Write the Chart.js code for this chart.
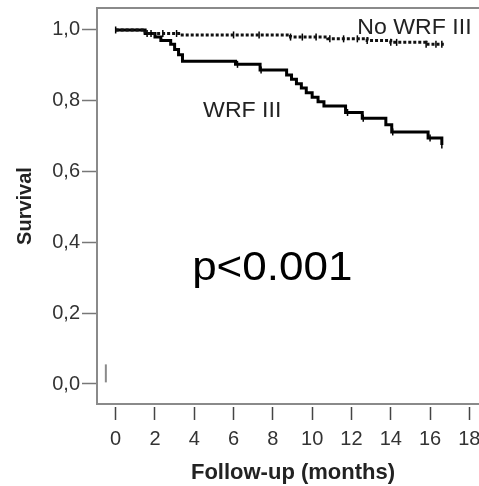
<!DOCTYPE html>
<html>
<head>
<meta charset="utf-8">
<script src="https://cdn.jsdelivr.net/npm/chart.js@4.4.1/dist/chart.umd.min.js"></script>
<style>
    html, body { margin: 0; padding: 0; background: #fff; overflow: hidden; }
    #wrap { width: 479px; height: 486px; overflow: hidden; }
</style>
</head>
<body>
<div id="wrap"><canvas id="km" width="500" height="486"></canvas></div>
<script>
// Kaplan-Meier steps (months, cumulative survival)
const wrfMonths = [0, 1.5, 2.0, 2.3, 2.8, 3.0, 3.2, 3.4, 6.1, 7.35, 8.7, 8.95, 9.2, 9.45, 9.7, 10.0, 10.3, 10.6, 11.7, 12.55, 13.75, 14.05, 15.9, 16.6];
const wrfSurv   = [1.0, 0.99, 0.98, 0.97, 0.96, 0.945, 0.93, 0.912, 0.903, 0.887, 0.873, 0.861, 0.848, 0.836, 0.823, 0.810, 0.797, 0.785, 0.767, 0.751, 0.732, 0.712, 0.695, 0.675];
const noWrfMonths = [0, 1.5, 3.3, 8.9, 10.8, 12.8, 14.0, 15.8, 16.7];
const noWrfSurv   = [1.0, 0.99, 0.986, 0.98, 0.975, 0.97, 0.965, 0.96, 0.96];

// censored observations (months)
const wrfCensored = [0, 6.2, 7.4, 11.8, 12.6, 14.1, 16.0, 16.6];
const noWrfCensored = [1.6, 1.8, 2.4, 3.1, 6.0, 7.3, 8.9, 9.5, 10.2, 10.9, 11.6, 12.3, 12.8, 14.0, 14.3, 15.8, 16.3, 16.6];

// small stray mark near the origin in the original
const strayMark = [{ x: -0.5, y: 0.03 }];

const xTicks = [0, 2, 4, 6, 8, 10, 12, 14, 16, 18];
const yTicks = [0, 0.2, 0.4, 0.6, 0.8, 1.0];

Chart.defaults.font.family = '"Liberation Sans", Arial, sans-serif';
Chart.defaults.color = '#333';

function toPoints(months, surv) {
    return months.map((m, i) => ({ x: m, y: surv[i] }));
}

function survAt(months, surv, t) {
    let i = 0;
    while (i + 1 < months.length && months[i + 1] <= t) i++;
    return surv[i];
}

function censorPoints(times, months, surv) {
    return times.map(t => ({ x: t, y: survAt(months, surv, t) }));
}

const framePlugin = {
    id: 'frame',
    beforeDatasetsDraw(chart) {
        const { ctx, chartArea: a } = chart;
        ctx.save();
        ctx.strokeStyle = '#8a8a8a';
        ctx.lineWidth = 2;
        ctx.strokeRect(a.left, a.top, a.right - a.left, a.bottom - a.top);
        ctx.restore();
    }
};

const notesPlugin = {
    id: 'notes',
    afterDatasetsDraw(chart, args, opts) {
        const { ctx } = chart;
        const xs = chart.scales.x, ys = chart.scales.y;
        opts.items.forEach(n => {
            ctx.save();
            ctx.translate(xs.getPixelForValue(n.x), ys.getPixelForValue(n.y));
            ctx.scale(n.stretch, 1);
            ctx.font = n.font;
            ctx.fillStyle = n.color;
            ctx.textAlign = n.align;
            ctx.textBaseline = 'alphabetic';
            ctx.fillText(n.text, 0, 0);
            ctx.restore();
        });
    }
};

const censorStyle = {
    type: 'scatter',
    showLine: false,
    pointStyle: 'line',
    rotation: 90,
    pointRadius: 3.5,
    borderWidth: 1.5,
    borderColor: '#000'
};

new Chart(document.getElementById('km'), {
    type: 'line',
    data: {
        datasets: [
            {
                label: 'No WRF III',
                data: toPoints(noWrfMonths, noWrfSurv),
                stepped: true,
                borderColor: '#111',
                borderWidth: 3,
                borderDash: [3, 2],
                pointRadius: 0
            },
            Object.assign({ label: 'No WRF III censored', data: censorPoints(noWrfCensored, noWrfMonths, noWrfSurv) }, censorStyle),
            {
                label: 'WRF III',
                data: toPoints(wrfMonths, wrfSurv),
                stepped: true,
                borderColor: '#000',
                borderWidth: 3,
                pointRadius: 0
            },
            Object.assign({ label: 'WRF III censored', data: censorPoints(wrfCensored, wrfMonths, wrfSurv) }, censorStyle),
            {
                type: 'scatter',
                label: 'mark',
                data: strayMark,
                pointStyle: 'line',
                rotation: 90,
                pointRadius: 9,
                borderWidth: 2,
                borderColor: '#8a8a8a'
            }
        ]
    },
    options: {
        responsive: false,
        animation: false,
        layout: { autoPadding: false, padding: { top: 8, right: 11, left: 0, bottom: 0 } },
        plugins: {
            legend: { display: false },
            tooltip: { enabled: false },
            notes: {
                items: [
                    { text: 'No WRF III', x: 12.3, y: 0.99, font: '22px "Liberation Sans"', color: '#222', align: 'left', stretch: 1.05 },
                    { text: 'WRF III', x: 4.45, y: 0.754, font: '22px "Liberation Sans"', color: '#222', align: 'left', stretch: 1.05 },
                    { text: 'p<0.001', x: 7.97, y: 0.294, font: '40px "Liberation Sans"', color: '#000', align: 'center', stretch: 1.1 }
                ]
            }
        },
        scales: {
            x: {
                type: 'linear',
                min: -0.95,
                max: 19,
                afterBuildTicks: s => { s.ticks = xTicks.map(v => ({ value: v })); },
                afterFit: s => { s.height = 82; s.paddingLeft = 0; s.paddingRight = 0; },
                border: { display: true, color: '#8a8a8a', width: 2 },
                grid: {
                    drawOnChartArea: false,
                    tickLength: 16,
                    tickColor: '#444',
                    tickWidth: 1.5,
                    tickBorderDash: [0, 2, 14, 40]
                },
                ticks: { autoSkip: false, maxRotation: 0, padding: 7, font: { size: 20 }, color: '#333' },
                title: {
                    display: true,
                    text: 'Follow-up (months)',
                    font: { size: 22, weight: 'bold' },
                    color: '#222',
                    padding: 0
                }
            },
            y: {
                min: -0.0565,
                max: 1.0621,
                afterBuildTicks: s => { s.ticks = yTicks.map(v => ({ value: v })); },
                afterFit: s => { s.width = 97; s.paddingTop = 0; s.paddingBottom = 0; },
                border: { display: true, color: '#8a8a8a', width: 2 },
                grid: {
                    drawOnChartArea: false,
                    tickLength: 15,
                    tickColor: '#777',
                    tickWidth: 1.5
                },
                ticks: {
                    padding: 2,
                    font: { size: 20 },
                    color: '#333',
                    callback: v => v.toFixed(1).replace('.', ',')
                },
                title: {
                    display: true,
                    text: 'Survival',
                    font: { size: 20, weight: 'bold' },
                    color: '#222',
                    padding: { top: 13, bottom: 0 }
                }
            }
        }
    },
    plugins: [framePlugin, notesPlugin]
});
</script>
</body>
</html>
